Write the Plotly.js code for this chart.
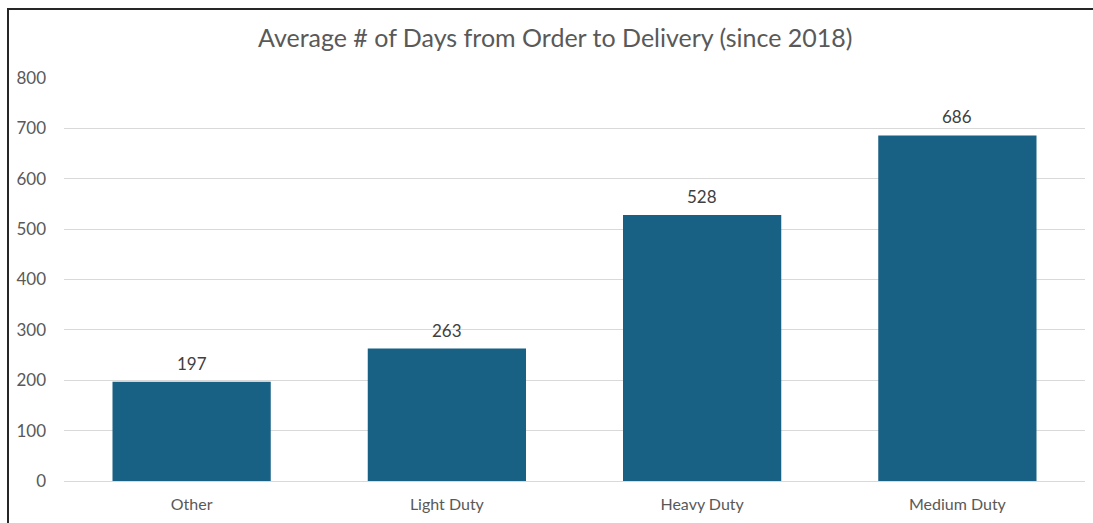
<!DOCTYPE html>
<html>
<head>
<meta charset="utf-8">
<script src="https://cdn.plot.ly/plotly-3.0.1.min.js"></script>
<style>
  html, body { margin: 0; padding: 0; background: #fff; }
  #wrap { position: relative; width: 1093px; height: 523px; overflow: hidden; }
  #chart { width: 1093px; height: 523px; }
  #frame { position: absolute; left: 7px; top: 8px; width: 1200px; height: 600px;
           border: 2px solid #262626; pointer-events: none; }
</style>
</head>
<body>
<div id="wrap">
  <div id="chart"></div>
  <div id="frame"></div>
</div>
<script>
const categories = ["Other", "Light Duty", "Heavy Duty", "Medium Duty"];
const avgDays = [197, 263, 528, 686];
const yTickVals = [0, 100, 200, 300, 400, 500, 600, 700, 800];

const font = "Lato, Open Sans, sans-serif";

const trace = {
  type: "bar",
  x: categories,
  y: avgDays,
  marker: { color: "#186084" },
  width: 0.62,
  hoverinfo: "x+y"
};

const labels = categories.map((c, i) => ({
  x: c,
  y: avgDays[i],
  xref: "x",
  yref: "y",
  text: String(avgDays[i]),
  showarrow: false,
  yanchor: "bottom",
  yshift: 6,
  font: { family: font, size: 17, color: "#404040" }
}));

const layout = {
  width: 1093,
  height: 523,
  margin: { l: 64, r: 8, t: 78, b: 42 },
  paper_bgcolor: "#ffffff",
  plot_bgcolor: "#ffffff",
  title: {
    text: "Average # of Days from Order to Delivery (since 2018)",
    font: { family: font, size: 25, color: "#595959" },
    x: 0.508,
    xanchor: "center",
    y: 0.927,
    yanchor: "middle"
  },
  xaxis: {
    type: "category",
    showgrid: false,
    showline: false,
    ticks: "",
    tickfont: { family: font, size: 16, color: "#595959" },
    ticklabelstandoff: 12
  },
  yaxis: {
    range: [0, 800],
    tickvals: yTickVals,
    showgrid: true,
    gridcolor: "#d9d9d9",
    gridwidth: 1,
    zeroline: true,
    zerolinecolor: "#d9d9d9",
    zerolinewidth: 1,
    showline: false,
    ticks: "",
    tickfont: { family: font, size: 17, color: "#595959" },
    ticklabelstandoff: 17
  },
  annotations: labels,
  showlegend: false
};

Plotly.newPlot("chart", [trace], layout, { displayModeBar: false, staticPlot: true });
</script>
</body>
</html>
